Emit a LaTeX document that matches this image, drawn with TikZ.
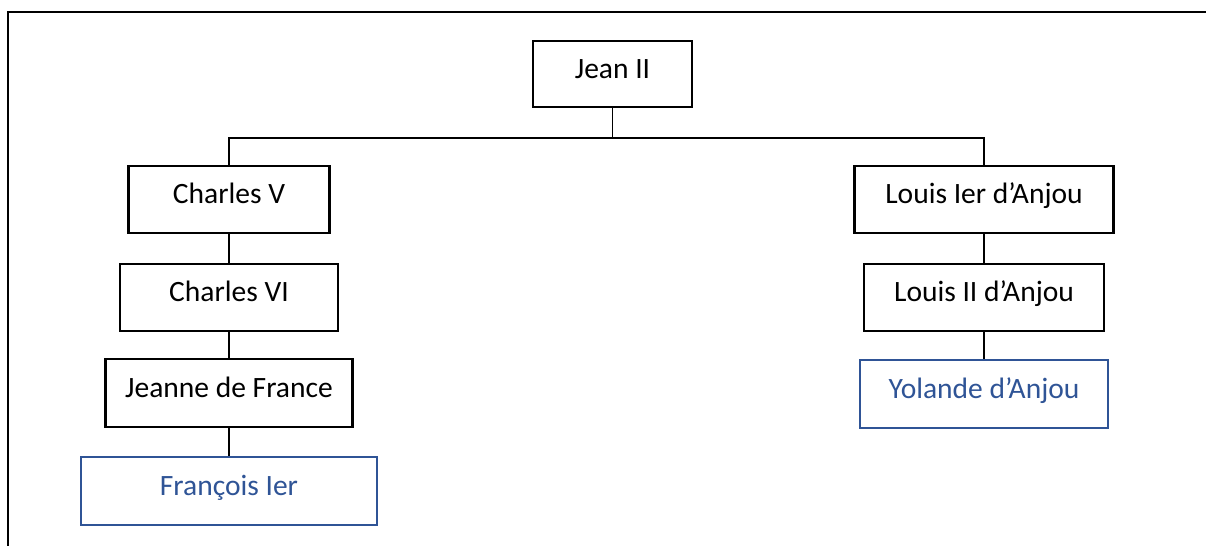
\documentclass[tikz,border=0pt]{standalone}
\usepackage{fontspec}
\setmainfont{Carlito}
\usepackage{tikz}
\usetikzlibrary{positioning}
\usepackage{xcolor}
\definecolor{heirblue}{RGB}{47,84,150}

\begin{document}
\begin{tikzpicture}[x=0.02cm, y=-0.02cm,
    every node/.style={font=\fontsize{16.8}{20}\selectfont},
    person/.style={draw, line width=1.25pt, rectangle, text height=0.42cm, text depth=0.25cm, inner sep=0pt},
    heir/.style={person, draw=heirblue, text=heirblue},
    link/.style={line width=0.6pt}]
    \useasboundingbox (0,0) rectangle (1206,546);
    \draw[line width=1.2pt] (1206,12) -- (8,12) -- (8,546);
    % root
    \node[person,minimum width=3.18cm,minimum height=1.32cm] (jean)     at (612.5,74)  {Jean II};
    % left branch
    \node[person,minimum width=4.02cm,minimum height=1.34cm] (charles5) at (229,199.5) {Charles V};
    \node[person,minimum width=4.36cm,minimum height=1.34cm] (charles6) at (229,297.5) {Charles VI};
    \node[person,minimum width=4.94cm,minimum height=1.36cm] (jeanne)   at (229,393)   {Jeanne de France};
    \node[heir,  minimum width=5.92cm,minimum height=1.36cm] (francois) at (229,491)   {François Ier};
    % right branch
    \node[person,minimum width=5.18cm,minimum height=1.34cm] (louis1)   at (984,199.5) {Louis Ier d’Anjou};
    \node[person,minimum width=4.80cm,minimum height=1.34cm] (louis2)   at (984,297.5) {Louis II d’Anjou};
    \node[heir,  minimum width=4.96cm,minimum height=1.36cm] (yolande)  at (984,394)   {Yolande d’Anjou};
    \coordinate (split) at (612.5,138);
    \draw[link] (jean.south) -- (split);
    \draw[link] (charles5.north) |- (split) -| (louis1.north);
    \draw[link] (charles5) -- (charles6);
    \draw[link] (charles6) -- (jeanne);
    \draw[link] (jeanne) -- (francois);
    \draw[link] (louis1) -- (louis2);
    \draw[link] (louis2) -- (yolande);
  \end{tikzpicture}
\end{document}
